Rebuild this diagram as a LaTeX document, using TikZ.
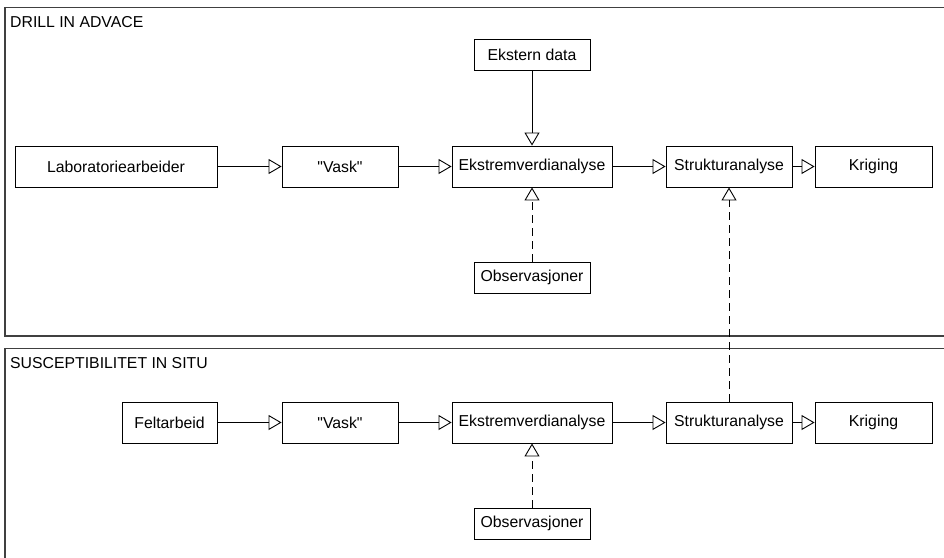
\documentclass[tikz,border=0pt]{standalone}
\usepackage{fontspec}
\setmainfont{Liberation Sans}[Ligatures=TeXOff]
\usetikzlibrary{arrows.meta}
\begin{document}
\begin{tikzpicture}[x=1pt,y=-1pt,
  box/.style={draw, line width=0.9pt, inner sep=0pt, minimum height=41pt, font=\fontsize{15.8}{18}\selectfont},
  smallbox/.style={box, minimum height=31pt},
  frame/.style={draw=black!75, line width=1.1pt},
  flow/.style={line width=0.9pt, -{Triangle[open, length=13pt, width=15pt, line width=0.9pt]}},
  dep/.style={flow, dash pattern=on 8pt off 5pt},
  title/.style={anchor=base west, inner sep=0pt, font=\fontsize{15.8}{18}\selectfont}]
\useasboundingbox (0,0) rectangle (944,557);
\begin{scope}
\clip (0,0) rectangle (944,557);
\draw[frame] (5,7.5) rectangle (960,336);
\draw[frame] (5,348.5) rectangle (960,580);
\end{scope}
\node[title] (t1) at (10,27) {DRILL IN ADVACE};
\node[title] (t2) at (10,368) {SUSCEPTIBILITET IN SITU};
% top row
\node[box, minimum width=202pt] (lab) at (116,166.5) {Laboratoriearbeider};
\node[box, minimum width=116pt] (vask1) at (340,166.5) {"Vask"};
\node[box, minimum width=160pt] (ek1) at (532,166.5) {Ekstremverdianalyse};
\node[box, minimum width=126pt] (st1) at (729,166.5) {Strukturanalyse};
\node[box, minimum width=117pt] (kr1) at (873.5,166.5) {Kriging};
\node[smallbox, minimum width=116pt] (ext) at (532,54.5) {Ekstern data};
\node[smallbox, minimum width=116pt] (obs1) at (532,277.5) {Observasjoner};
% bottom row
\node[box, minimum width=95pt] (felt) at (169.5,422.5) {Feltarbeid};
\node[box, minimum width=116pt] (vask2) at (340,422.5) {"Vask"};
\node[box, minimum width=160pt] (ek2) at (532,422.5) {Ekstremverdianalyse};
\node[box, minimum width=126pt] (st2) at (729,422.5) {Strukturanalyse};
\node[box, minimum width=117pt] (kr2) at (873.5,422.5) {Kriging};
\node[smallbox, minimum width=116pt] (obs2) at (532,523.5) {Observasjoner};
% connectors
\draw[flow] (lab) -- (vask1);
\draw[flow] (vask1) -- (ek1);
\draw[flow] (ek1) -- (st1);
\draw[flow] (st1) -- (kr1);
\draw[flow] (ext) -- (ek1);
\draw[dep] (obs1) -- (ek1);
\draw[flow] (felt) -- (vask2);
\draw[flow] (vask2) -- (ek2);
\draw[flow] (ek2) -- (st2);
\draw[flow] (st2) -- (kr2);
\draw[dep] (obs2) -- (ek2);
\draw[dep] (st2) -- (st1);
\end{tikzpicture}
\end{document}
